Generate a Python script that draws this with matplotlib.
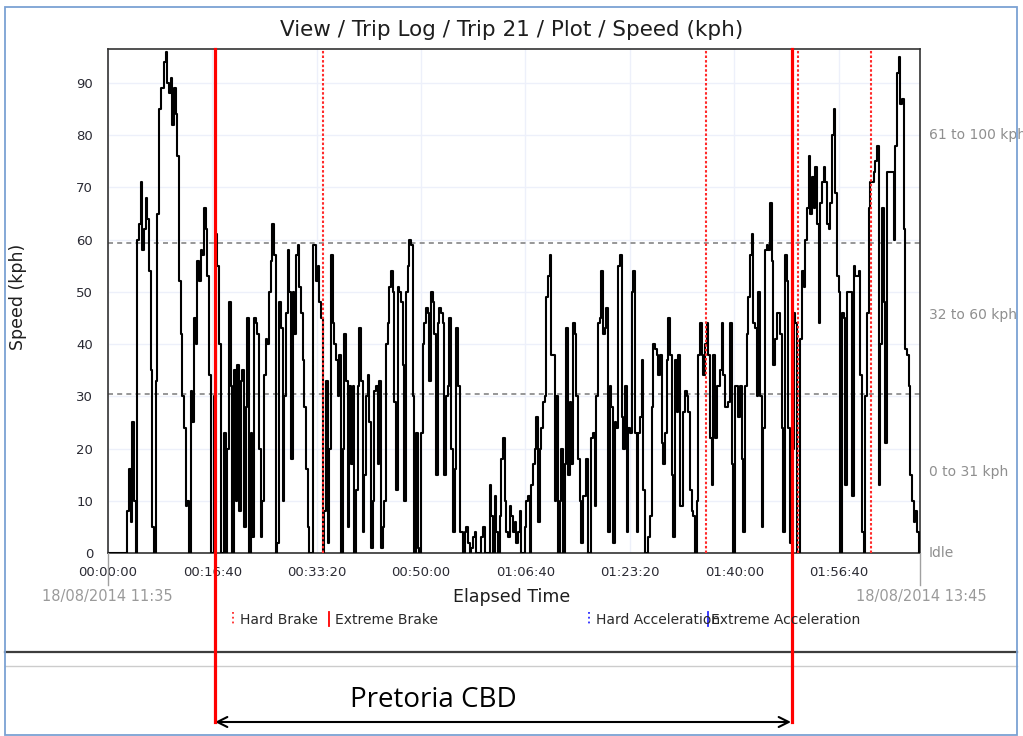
import numpy as np
import matplotlib.pyplot as plt
from matplotlib.lines import Line2D
from matplotlib.patches import Rectangle

# speed samples, one every 16 s from 00:00:00
sample_s = 16
speed_kph = [
    0, 0, 0, 0, 0, 0, 0, 0, 0, 0, 0, 0,
    8, 16, 6, 25, 10, 0, 60, 63, 71, 58, 62, 68, 64, 54, 35, 5, 0, 33, 65, 85,
    89, 89, 94, 96, 90, 88, 91, 82, 89, 84, 76, 52, 42, 30, 24, 9, 10, 0, 31, 25,
    45, 40, 56, 52, 58, 57, 66, 62, 53, 34, 0, 0, 30, 61, 55, 40, 0, 0, 23, 0,
    20, 48, 32, 0, 35, 10, 36, 8, 33, 35, 5, 28, 45, 0, 23, 3, 45, 44, 42, 20,
    3, 10, 34, 41, 40, 50, 56, 63, 57, 0, 2, 48, 43, 10, 30, 46, 58, 50, 18, 50,
    42, 57, 59, 51, 46, 37, 28, 16, 5, 0, 0, 59, 59, 52, 55, 48, 45, 0, 8, 33,
    2, 20, 57, 44, 40, 37, 30, 38, 0, 20, 42, 33, 5, 32, 17, 32, 0, 12, 32, 43,
    33, 4, 15, 30, 34, 25, 1, 10, 31, 32, 17, 33, 1, 5, 10, 40, 44, 51, 54, 50,
    29, 12, 51, 50, 48, 36, 10, 50, 55, 60, 59, 30, 0, 23, 1, 0, 23, 40, 44, 47,
    46, 33, 50, 48, 42, 15, 44, 47, 46, 44, 15, 30, 32, 45, 20, 4, 16, 43, 32, 4,
    4, 0, 4, 5, 2, 0, 1, 3, 4, 0, 0, 0, 3, 5, 0, 0, 0, 13, 7, 0,
    11, 4, 0, 7, 18, 22, 10, 4, 3, 9, 7, 4, 6, 2, 4, 8, 0, 0, 5, 10,
    11, 0, 13, 17, 20, 26, 6, 20, 24, 29, 30, 49, 53, 57, 38, 38, 10, 30, 0, 10,
    20, 0, 17, 43, 15, 29, 17, 44, 42, 30, 18, 10, 2, 11, 11, 18, 0, 0, 22, 23,
    9, 30, 44, 45, 54, 42, 43, 47, 4, 32, 28, 2, 25, 24, 55, 57, 26, 20, 32, 4,
    24, 23, 50, 54, 23, 4, 23, 26, 37, 12, 0, 0, 3, 7, 28, 40, 39, 38, 34, 38,
    21, 17, 23, 37, 45, 38, 15, 3, 37, 27, 38, 9, 9, 27, 31, 30, 27, 12, 8, 7,
    0, 10, 38, 44, 38, 34, 40, 44, 38, 22, 13, 38, 22, 32, 32, 35, 44, 34, 28, 28,
    29, 44, 17, 0, 32, 32, 26, 32, 18, 4, 32, 42, 49, 57, 61, 44, 43, 30, 50, 30,
    5, 24, 58, 59, 58, 67, 56, 36, 41, 46, 46, 42, 24, 4, 57, 52, 24, 2, 20, 46,
    44, 0, 0, 41, 54, 51, 60, 66, 76, 65, 72, 66, 74, 63, 44, 67, 71, 74, 71, 63,
    62, 67, 80, 85, 69, 53, 50, 0, 46, 45, 13, 50, 50, 50, 11, 55, 53, 53, 54, 34,
    4, 0, 30, 46, 66, 71, 71, 73, 75, 78, 13, 40, 66, 48, 21, 73, 73, 73, 73, 60,
    78, 92, 95, 86, 87, 62, 39, 38, 32, 15, 10, 6, 8, 4, 0,
]

hard_brake_s = [2057, 5730, 6614, 7311]
extreme_brake_s = [1025, 6551]

band_limits = [30.5, 59.3]
band_labels = ['Idle', '0 to 31 kph', '32 to 60 kph', '61 to 100 kph']
band_label_at = [0, 15.5, 45.5, 80]

x_ticks = [0, 1000, 2000, 3000, 4000, 5000, 6000, 7000]
x_tick_labels = ['00:00:00', '00:16:40', '00:33:20', '00:50:00',
                 '01:06:40', '01:23:20', '01:40:00', '01:56:40']
y_ticks = [0, 10, 20, 30, 40, 50, 60, 70, 80, 90]
trip_start = '18/08/2014 11:35'
trip_end = '18/08/2014 13:45'

W, H = 1023, 736


def px(x, y):
    return x / W, 1 - y / H


elapsed = np.arange(len(speed_kph)) * sample_s

fig = plt.figure(figsize=(W / 100, H / 100), dpi=100)
ax = fig.add_axes([108 / W, 1 - 553 / H, (920 - 108) / W, (553 - 49) / H])

ax.plot(elapsed, speed_kph, color='black', lw=1.5, drawstyle='steps-mid',
        zorder=3)
ax.set_xlim(0, 7780)
ax.set_ylim(0, 96.5)

ax.set_xticks(x_ticks)
ax.set_xticklabels(x_tick_labels)
ax.set_yticks(y_ticks)
ax.tick_params(length=0, labelsize=9.5, colors='#2a2a33')
ax.tick_params(axis='x', pad=9.7)
ax.tick_params(axis='y', pad=10.8)
ax.grid(True, color='#edf0fa', lw=1)
ax.set_axisbelow(True)
for s in ax.spines.values():
    s.set_color('#333333')
    s.set_linewidth(1.2)

for lim in band_limits:
    ax.axhline(lim, color='#858585', lw=1.2, linestyle=(0, (3, 2.5)), zorder=2)

for t in hard_brake_s:
    ax.axvline(t, color='#ff2a2a', lw=1.5, linestyle=(0, (1.2, 1.0)), zorder=4)
for t in extreme_brake_s:
    ax.axvline(t, ymin=-(722 - 553) / 504, ymax=1, color='#ff0000', lw=2.3,
               clip_on=False, zorder=5)

for lab, v in zip(band_labels, band_label_at):
    ax.text((929 - 108) / 812, v, lab, transform=ax.get_yaxis_transform(),
            ha='left', va='center', fontsize=10, color='#8f8f8f', clip_on=False)

# header, axis titles, trip times
fig.text(*px(512, 36), 'View / Trip Log / Trip 21 / Plot / Speed (kph)',
         ha='center', va='baseline', fontsize=15.5, color='#1e1e1e')
fig.text(*px(18, 297), 'Speed (kph)', rotation=90, ha='center', va='center',
         fontsize=12.5, color='#1e1e1e')
fig.text(*px(512, 602), 'Elapsed Time', ha='center', va='baseline',
         fontsize=12.5, color='#1e1e1e')
fig.text(*px(107.5, 601), trip_start, ha='center', va='baseline',
         fontsize=10.5, color='#9a9a9a')
fig.text(*px(921, 601), trip_end, ha='center', va='baseline',
         fontsize=10.5, color='#9a9a9a')
for xe in (108, 920):
    fig.add_artist(Line2D([xe / W] * 2, [1 - 553 / H, 1 - 585 / H],
                          color='#a0a0a0', lw=1))

# legend row
legend_items = [(233, 240, '#ff2a2a', ':', 'Hard Brake'),
                (329, 335, '#ff0000', '-', 'Extreme Brake'),
                (589, 596, '#2a2aff', ':', 'Hard Acceleration'),
                (708, 711, '#2a2aff', '-', 'Extreme Acceleration')]
for xm, xt, col, ls, lab in legend_items:
    fig.add_artist(Line2D([xm / W] * 2, [1 - 612 / H, 1 - 626 / H],
                          color=col, lw=1.3, linestyle=ls))
    fig.text(*px(xt, 624), lab, ha='left', va='baseline', fontsize=10,
             color='#2a2a2a')

# annotation below the chart
fig.add_artist(Line2D([5 / W, 1017 / W], [1 - 652 / H] * 2, color='#3d3d3d',
                      lw=1.6, zorder=-1))
fig.add_artist(Line2D([5 / W, 1017 / W], [1 - 666 / H] * 2, color='#cccccc',
                      lw=1, zorder=-1))
fig.text(*px(433, 707), 'Pretoria CBD', ha='center', va='baseline',
         family='Open Sans', fontsize=20, color='black')
ax.annotate('', xy=px(791, 722), xytext=px(215, 722),
            xycoords='figure fraction', textcoords='figure fraction',
            arrowprops=dict(arrowstyle='<->', lw=1.5, color='black',
                            mutation_scale=18, shrinkA=0, shrinkB=0))

fig.add_artist(Rectangle((5 / W, 1 - 735 / H), 1012 / W, 728 / H,
                         transform=fig.transFigure, fill=False,
                         ec='#7ba1d3', lw=1.3))

fig.savefig('out.png', dpi=100)
